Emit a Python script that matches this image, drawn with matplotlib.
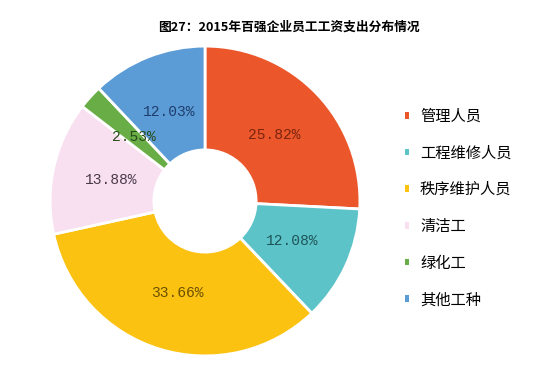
import matplotlib.pyplot as plt

plt.rcParams['font.family'] = ['Noto Sans CJK SC', 'DejaVu Sans']

# 2015 top-100 property firms: staff wage spend by job type
categories = ['管理人员', '工程维修人员', '秩序维护人员', '清洁工', '绿化工', '其他工种']
shares = [25.82, 12.08, 33.66, 13.88, 2.53, 12.03]
colors = ['#EB572B', '#5CC3C8', '#FCC211', '#F8E0F1', '#68AD45', '#5B9BD6']
label_colors = ['#7A2410', '#1E5558', '#6A5000', '#4A3A48', '#2A4A1A', '#1E3E6C']

fig = plt.figure(figsize=(5.56, 3.85), dpi=100)
# pie centre ~ (205, 201) px, radius ~155 px
ax = fig.add_axes([(205 - 158) / 556, (385 - 201 - 158) / 385, 316 / 556, 316 / 385])

wedges, texts, autotexts = ax.pie(
    shares, colors=colors, startangle=90, counterclock=False,
    autopct='%.2f%%', pctdistance=0.62,
    wedgeprops=dict(width=0.67, edgecolor='white', linewidth=2),
    textprops=dict(fontsize=10.5, family=['Liberation Mono', 'DejaVu Sans Mono']))
for t, c in zip(autotexts, label_colors):
    t.set_color(c)
ax.set_xlim(-1.02, 1.02)
ax.set_ylim(-1.02, 1.02)
ax.set_aspect('equal')

fig.text(0.52, 1 - 27 / 385, '图27：2015年百强企业员工工资支出分布情况',
         ha='center', va='center', fontsize=9.2, fontweight='bold')

leg = fig.legend(wedges, categories, loc='upper left',
                 bbox_to_anchor=(391 / 556, 1 - 94 / 385), frameon=False,
                 fontsize=11, labelspacing=1.29, handlelength=0.3,
                 handleheight=0.3, handletextpad=0.7)
for h in leg.legend_handles:
    h.set_linewidth(0)

fig.savefig('out.png', dpi=100)
